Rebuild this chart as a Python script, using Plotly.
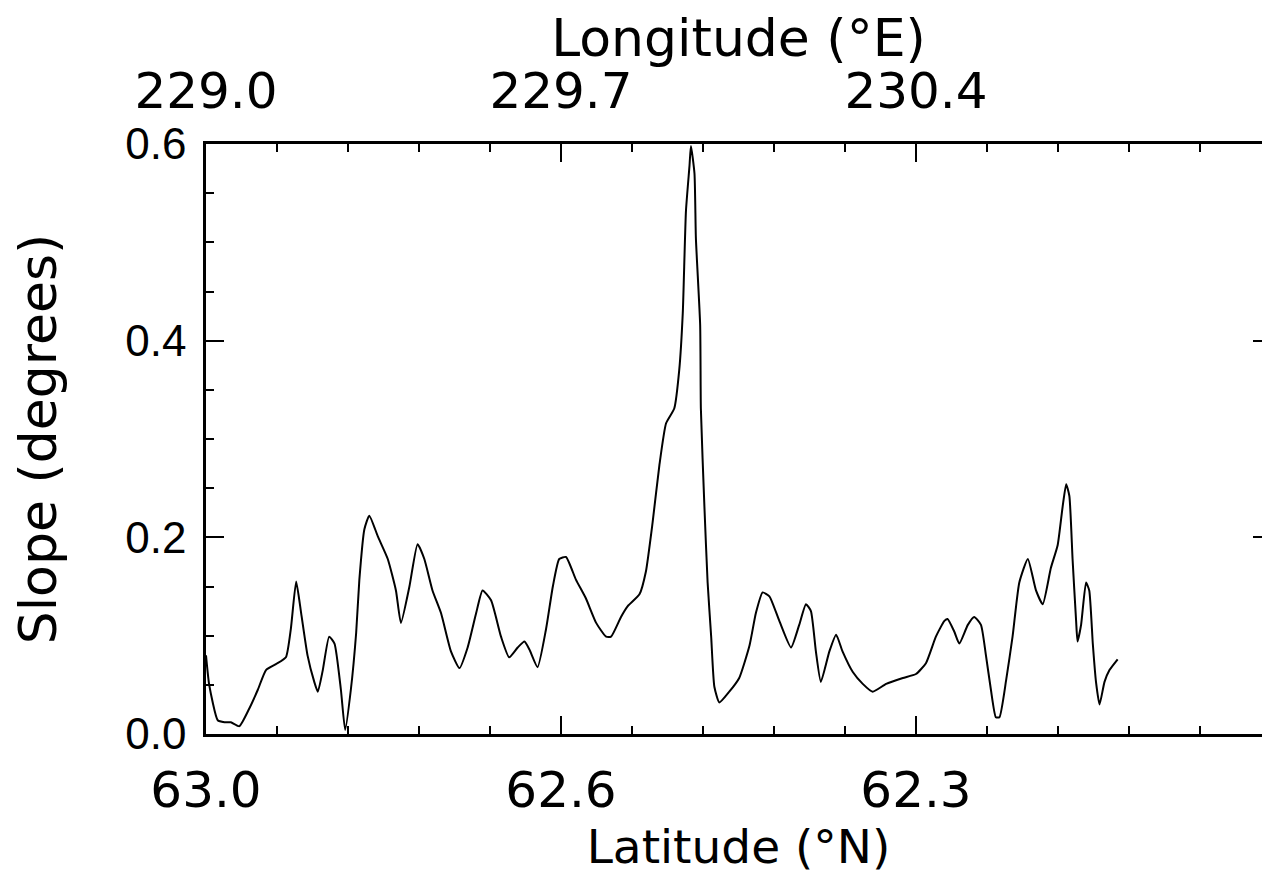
import plotly.graph_objects as go

# Position along the profile, in units of the major tick spacing (0..3 spans the frame)
profile_pos = [
    0.000, 0.009, 0.033, 0.052, 0.070, 0.094, 0.122, 0.146, 0.169, 0.197,
    0.225, 0.239, 0.254, 0.268, 0.286, 0.305, 0.315, 0.329, 0.347, 0.362,
    0.380, 0.392, 0.408, 0.423, 0.432, 0.446, 0.460, 0.484, 0.512, 0.535,
    0.549, 0.573, 0.596, 0.615, 0.638, 0.662, 0.690, 0.714, 0.737, 0.761,
    0.779, 0.803, 0.831, 0.854, 0.878, 0.897, 0.911, 0.934, 0.958, 0.977,
    0.995, 1.014, 1.042, 1.070, 1.099, 1.127, 1.141, 1.169, 1.188, 1.221,
    1.239, 1.258, 1.277, 1.296, 1.319, 1.333, 1.343, 1.352, 1.362, 1.366,
    1.376, 1.380, 1.392, 1.394, 1.404, 1.413, 1.423, 1.432, 1.446, 1.474,
    1.502, 1.531, 1.549, 1.568, 1.587, 1.615, 1.648, 1.671, 1.690, 1.704,
    1.718, 1.732, 1.756, 1.775, 1.793, 1.822, 1.850, 1.878, 1.916, 1.963,
    2.000, 2.028, 2.056, 2.080, 2.089, 2.108, 2.122, 2.146, 2.164, 2.183,
    2.197, 2.211, 2.225, 2.235, 2.254, 2.272, 2.291, 2.315, 2.338, 2.357,
    2.380, 2.399, 2.413, 2.423, 2.432, 2.441, 2.451, 2.455, 2.465, 2.479,
    2.488, 2.498, 2.507, 2.517, 2.531, 2.545, 2.568,
]

slope_deg = [
    0.080, 0.050, 0.014, 0.012, 0.012, 0.008, 0.026, 0.045, 0.065, 0.071,
    0.078, 0.107, 0.155, 0.123, 0.080, 0.053, 0.043, 0.065, 0.099, 0.092,
    0.045, 0.004, 0.045, 0.103, 0.157, 0.208, 0.222, 0.201, 0.178, 0.146,
    0.113, 0.150, 0.193, 0.178, 0.146, 0.123, 0.084, 0.067, 0.088, 0.123,
    0.146, 0.136, 0.099, 0.078, 0.088, 0.094, 0.086, 0.068, 0.107, 0.150,
    0.178, 0.180, 0.157, 0.138, 0.113, 0.099, 0.099, 0.119, 0.130, 0.142,
    0.165, 0.215, 0.273, 0.316, 0.331, 0.370, 0.428, 0.532, 0.578, 0.598,
    0.570, 0.504, 0.416, 0.331, 0.231, 0.154, 0.099, 0.048, 0.032, 0.043,
    0.057, 0.090, 0.123, 0.144, 0.140, 0.115, 0.088, 0.111, 0.132, 0.125,
    0.084, 0.053, 0.084, 0.101, 0.084, 0.063, 0.051, 0.043, 0.051, 0.057,
    0.061, 0.072, 0.099, 0.115, 0.117, 0.104, 0.092, 0.111, 0.119, 0.111,
    0.080, 0.045, 0.017, 0.017, 0.055, 0.099, 0.154, 0.178, 0.146, 0.132,
    0.169, 0.192, 0.231, 0.254, 0.242, 0.178, 0.115, 0.094, 0.111, 0.154,
    0.146, 0.092, 0.053, 0.030, 0.053, 0.065, 0.076,
]

lat_tick_pos = [0, 1, 2]
lat_tick_text = ["63.0", "62.6", "62.3"]
lon_tick_pos = [0, 1, 2]
lon_tick_text = ["229.0", "229.7", "230.4"]
slope_tick_vals = [0.0, 0.2, 0.4, 0.6]
slope_tick_text = ["0.0", "0.2", "0.4", "0.6"]

FONT = "DejaVu Sans"
YFONT = "Liberation Sans"
BLACK = "#000000"

fig = go.Figure()
fig.add_trace(go.Scatter(
    x=profile_pos, y=slope_deg, mode="lines",
    line=dict(color=BLACK, width=2, shape="spline", smoothing=0.5),
    showlegend=False, hoverinfo="skip",
))
# invisible copy to anchor the top (longitude) axis
fig.add_trace(go.Scatter(
    x=profile_pos, y=slope_deg, mode="lines", xaxis="x2",
    line=dict(color="rgba(0,0,0,0)", width=0),
    showlegend=False, hoverinfo="skip",
))

axis_common = dict(
    showgrid=False, zeroline=False, showline=True, linecolor=BLACK, linewidth=2.5,
    ticks="inside", ticklen=18, tickwidth=1.5, tickcolor=BLACK,
)

fig.update_layout(
    width=1270, height=880,
    paper_bgcolor="white", plot_bgcolor="white",
    margin=dict(l=198, r=4, t=136, b=154),
    font=dict(family=FONT, size=50, color=BLACK),
    xaxis=dict(
        **axis_common,
        range=[0, 3], tickmode="array", tickvals=lat_tick_pos, ticktext=lat_tick_text,
        tickfont=dict(family=FONT, size=50, color=BLACK),
        minor=dict(dtick=0.2, tick0=0, ticks="inside", ticklen=8, tickcolor=BLACK, showgrid=False),
        ticklabelstandoff=10,
        title=dict(text="Latitude (°N)", font=dict(family=FONT, size=47), standoff=0),
    ),
    xaxis2=dict(
        **axis_common,
        overlaying="x", side="top", anchor="y",
        range=[0, 3], tickmode="array", tickvals=lon_tick_pos, ticktext=lon_tick_text,
        tickfont=dict(family=FONT, size=50, color=BLACK),
        minor=dict(dtick=0.2, tick0=0, ticks="inside", ticklen=8, tickcolor=BLACK, showgrid=False),
        ticklabelstandoff=13,
        title=dict(text="Longitude (°E)", font=dict(family=FONT, size=52), standoff=0),
    ),
    yaxis=dict(
        **axis_common,
        range=[0, 0.6], tickmode="array", tickvals=slope_tick_vals, ticktext=slope_tick_text,
        tickfont=dict(family=YFONT, size=44, color=BLACK),
        mirror="ticks",
        minor=dict(dtick=0.05, tick0=0, ticks="inside", ticklen=8, tickcolor=BLACK, showgrid=False),
        ticklabelstandoff=8,
        title=dict(text="Slope (degrees)", font=dict(family=FONT, size=52), standoff=60),
    ),
)

fig.write_html("out.html")
